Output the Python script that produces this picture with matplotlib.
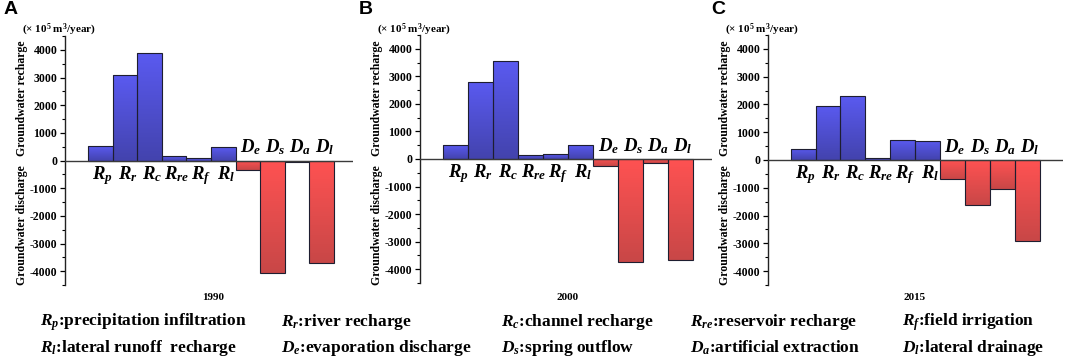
import numpy as np
import matplotlib
matplotlib.use("Agg")
import matplotlib.pyplot as plt
from matplotlib.colors import LinearSegmentedColormap
from matplotlib.ticker import MultipleLocator, FixedLocator
from matplotlib import font_manager

# ---------------- data ----------------
recharge_labels = [r'$R_p$', r'$R_r$', r'$R_c$', r'$R_{re}$', r'$R_f$', r'$R_l$']
discharge_labels = [r'$D_e$', r'$D_s$', r'$D_a$', r'$D_l$']
years = ['1990', '2000', '2015']
panel_letters = ['A', 'B', 'C']

recharge_1990 = [520, 3100, 3880, 180, 80, 480]
discharge_1990 = [-340, -4050, -40, -3700]
recharge_2000 = [490, 2780, 3540, 160, 180, 500]
discharge_2000 = [-260, -3720, -140, -3680]
recharge_2015 = [410, 1950, 2300, 90, 720, 700]
discharge_2015 = [-680, -1620, -1030, -2900]

recharge_values = [recharge_1990, recharge_2000, recharge_2015]
discharge_values = [discharge_1990, discharge_2000, discharge_2015]

legend_row1 = [r'$R_p$:precipitation infiltration', r'$R_r$:river recharge',
               r'$R_c$:channel recharge', r'$R_{re}$:reservoir recharge',
               r'$R_f$:field irrigation']
legend_row2 = [r'$R_l$:lateral runoff  recharge', r'$D_e$:evaporation discharge',
               r'$D_s$:spring outflow', r'$D_a$:artificial extraction',
               r'$D_l$:lateral drainage']

# ---------------- style ----------------
plt.rcParams['font.family'] = 'serif'
plt.rcParams['font.serif'] = ['Liberation Serif', 'DejaVu Serif']
plt.rcParams['font.weight'] = 'bold'
plt.rcParams['mathtext.fontset'] = 'custom'
plt.rcParams['mathtext.rm'] = 'Liberation Serif:bold'
plt.rcParams['mathtext.bf'] = 'Liberation Serif:bold'
plt.rcParams['mathtext.it'] = 'Liberation Serif:bold:italic'
plt.rcParams['axes.unicode_minus'] = False

serif_bold = font_manager.FontProperties(family='Liberation Serif', weight='bold')

blue_cmap = LinearSegmentedColormap.from_list('b', ['#4343ad', '#5a5af0'])
red_cmap = LinearSegmentedColormap.from_list('r', ['#c84747', '#ff5252'])
edge_col = '#1e1e30'

fig = plt.figure(figsize=(10.65, 3.62), dpi=100)
W, H = 1065, 362

# pixel boxes: left, right, top, bottom
boxes = [(65, 353, 36, 285), (420, 712, 35, 283), (768, 1063, 35, 285)]
xlims = [(-1.435, 10.27), (-1.433, 10.26), (-1.41, 10.44)]
year_x = [213, 568, 915]
letter_x = [4, 359, 711]

grad = np.linspace(0, 1, 256).reshape(-1, 1)

for k in range(3):
    l, r, t, b = boxes[k]
    ax = fig.add_axes([l / W, 1 - b / H, (r - l) / W, (b - t) / H])
    ax.set_facecolor('none')
    vals = recharge_values[k] + discharge_values[k]
    labels = recharge_labels + discharge_labels
    xs = np.arange(len(vals))
    bars = ax.bar(xs, vals, width=1.0, facecolor='none', edgecolor=edge_col,
                  linewidth=0.8, zorder=3)
    for i, (bar, v) in enumerate(zip(bars, vals)):
        x0 = bar.get_x()
        y0 = min(0, v)
        y1 = max(0, v)
        cmap = blue_cmap if v > 0 else red_cmap
        im = ax.imshow(grad, extent=[x0, x0 + 1.0, y0, y1], origin='lower',
                       aspect='auto', cmap=cmap, zorder=2, interpolation='bilinear')
        im.set_clip_path(bar)
    ax.set_xlim(*xlims[k])
    ax.set_ylim(-4500, 4500)
    ax.axhline(0, color='#3a3a3a', lw=1.0, zorder=4)
    for s in ['top', 'right', 'bottom']:
        ax.spines[s].set_visible(False)
    ax.spines['left'].set_linewidth(1.0)
    ax.spines['left'].set_color('#222222')
    ax.set_xticks([])
    ax.yaxis.set_major_locator(FixedLocator([-4000, -3000, -2000, -1000, 0, 1000, 2000, 3000, 4000]))
    ax.yaxis.set_minor_locator(MultipleLocator(500))
    ax.tick_params(axis='y', which='major', length=3.5, width=0.9, labelsize=8.5, pad=2)
    ax.tick_params(axis='y', which='minor', length=2, width=0.8)
    for lab in ax.get_yticklabels():
        lab.set_fontproperties(serif_bold)
        lab.set_fontsize(8.5)

    # category labels
    for i, lab in enumerate(labels):
        if vals[i] > 0:
            ax.text(xs[i] + 0.1, -120, lab, ha='center', va='top', fontsize=13.5, zorder=5)
        else:
            ax.text(xs[i] + 0.1, 120, lab, ha='center', va='bottom', fontsize=13.5, zorder=5)

    # axis texts in figure pixels
    fig.text((l - 43) / W, 1 - 98 / H, 'Groundwater recharge', rotation=90,
             ha='center', va='center', fontsize=8.5, fontproperties=serif_bold)
    fig.text((l - 43) / W, 1 - 225 / H, 'Groundwater discharge', rotation=90,
             ha='center', va='center', fontsize=8.5, fontproperties=serif_bold)
    t1 = fig.text((l - 43) / W, 1 - 30 / H, r'(× 10$^{5}$ m$^{3}$/year)',
                  ha='left', va='center', fontproperties=serif_bold)
    t1.set_fontsize(8)
    ty = fig.text(year_x[k] / W, 1 - 297 / H, years[k], ha='center', va='center',
                  fontproperties=serif_bold)
    ty.set_fontsize(8)
    fig.text(letter_x[k] / W, 1 - 10 / H, panel_letters[k], ha='left', va='center',
             fontsize=14, fontweight='bold', family=['Liberation Sans', 'DejaVu Sans'])

# bottom legend text
col_x = [40, 281, 501, 690, 902]
for j in range(5):
    a = fig.text(col_x[j] / W, 1 - 322 / H, legend_row1[j], ha='left', va='center',
                 fontproperties=serif_bold)
    a.set_fontsize(12.5)
    c = fig.text(col_x[j] / W, 1 - 348 / H, legend_row2[j], ha='left', va='center',
                 fontproperties=serif_bold)
    c.set_fontsize(12.5)

fig.savefig('out.png', dpi=100)
